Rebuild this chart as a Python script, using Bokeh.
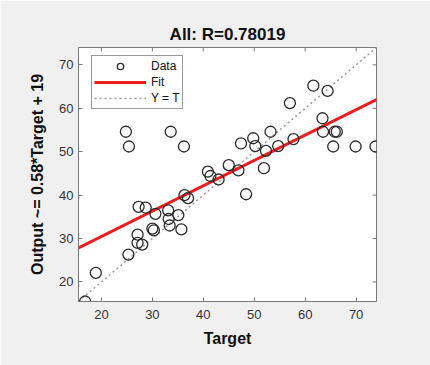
import math
from bokeh.plotting import figure
from bokeh.models import Range1d, Legend, LegendItem, FixedTicker, ColumnDataSource
from bokeh.embed import file_html
from bokeh.resources import INLINE

target = [16.8, 18.9, 25.3, 27.1, 27.1, 28.0, 27.3, 28.7, 30.0, 30.3, 30.6, 33.1, 33.2, 33.4,
          35.1, 35.7, 36.3, 37.0, 40.9, 41.4, 43.0, 45.0, 46.9, 48.4, 51.9, 47.4, 49.8, 50.2,
          52.3, 53.2, 54.7, 57.7, 57.0, 61.6, 64.4, 63.4, 63.5, 65.8, 66.2, 65.5, 69.9, 73.8,
          24.8, 25.4, 33.6, 36.2]
output = [15.5, 22.1, 26.3, 30.9, 29.0, 28.6, 37.3, 37.1, 32.3, 31.9, 35.7, 36.5, 34.5, 33.0,
          35.4, 32.1, 40.0, 39.3, 45.4, 44.4, 43.6, 46.9, 45.7, 40.2, 46.2, 51.9, 53.1, 51.3,
          50.2, 54.6, 51.3, 52.9, 61.2, 65.2, 64.0, 57.7, 54.6, 54.6, 54.6, 51.2, 51.2, 51.2,
          54.6, 51.2, 54.6, 51.2]
fit_slope = 0.584
fit_intercept = 18.8
axis_lo, axis_hi = 15.5, 74.0
ticks = [20, 30, 40, 50, 60, 70]
title_text = "All: R=0.78019"
ylabel_text = "Output ~= 0.58*Target + 19"
xlabel_text = "Target"

FONT = "Liberation Sans"
AX = "#7a7a7a"

p = figure(width=430, height=365, output_backend="svg", toolbar_location=None,
           x_range=Range1d(axis_lo, axis_hi), y_range=Range1d(axis_lo, axis_hi),
           min_border_left=78, min_border_right=54, min_border_top=47, min_border_bottom=64,
           title=title_text)
p.background_fill_color = "white"
p.border_fill_color = "#f0f0f0"
p.outline_line_color = AX
p.outline_line_width = 1
p.xgrid.visible = False
p.ygrid.visible = False

p.title.align = "center"
p.title.text_font = FONT
p.title.text_font_size = "17px"
p.title.text_font_style = "bold"
p.title.text_color = "#111111"
p.title.standoff = 8

for ax in (p.xaxis[0], p.yaxis[0]):
    ax.ticker = FixedTicker(ticks=ticks)
    ax.major_tick_in = 4
    ax.major_tick_out = 0
    ax.minor_tick_line_color = None
    ax.axis_line_color = AX
    ax.major_tick_line_color = AX
    ax.major_label_text_font = FONT
    ax.major_label_text_font_size = "13px"
    ax.major_label_text_color = "#333333"
    ax.axis_label_text_font = FONT
    ax.axis_label_text_font_style = "bold"
    ax.axis_label_text_color = "#111111"
    ax.axis_label_text_font_size = "16px"
p.xaxis[0].axis_label = xlabel_text
p.yaxis[0].axis_label = ylabel_text
p.xaxis[0].major_label_standoff = 8
p.xaxis[0].axis_label_standoff = 8
p.yaxis[0].major_label_standoff = 5
p.yaxis[0].axis_label_standoff = 10

# inward ticks on the top and right edges (half of each dash is clipped by the frame)
p.scatter(ticks, [axis_hi] * len(ticks), marker="dash", angle=math.pi / 2, size=8,
          line_color=AX, line_width=1)
p.scatter([axis_hi] * len(ticks), ticks, marker="dash", size=8,
          line_color=AX, line_width=1)

# Y = T line
yt = p.line([axis_lo, axis_hi], [axis_lo, axis_hi], line_color="#9a9a9a",
            line_dash="2 3", line_width=1.5)
# Fit line
fx = [axis_lo, axis_hi]
fy = [fit_slope * v + fit_intercept for v in fx]
fit = p.line(fx, fy, line_color="#ee1c1c", line_width=3)
# Data
src = ColumnDataSource(dict(x=target, y=output))
dat = p.scatter("x", "y", source=src, marker="circle", size=11, fill_color=None,
                line_color="#2a2a2a", line_width=1.3)

leg = Legend(items=[LegendItem(label="Data", renderers=[dat]),
                    LegendItem(label="Fit", renderers=[fit]),
                    LegendItem(label="Y = T", renderers=[yt])],
             location=(13, 192), label_text_font=FONT, label_text_font_size="12px",
             label_text_color="#111111", glyph_width=52, glyph_height=16, label_height=16,
             spacing=0, padding=2, margin=0, label_standoff=5,
             border_line_color="#333333", border_line_width=1,
             background_fill_color="white", background_fill_alpha=1)
p.add_layout(leg, "center")

open("out.html", "w").write(file_html(p, INLINE))
